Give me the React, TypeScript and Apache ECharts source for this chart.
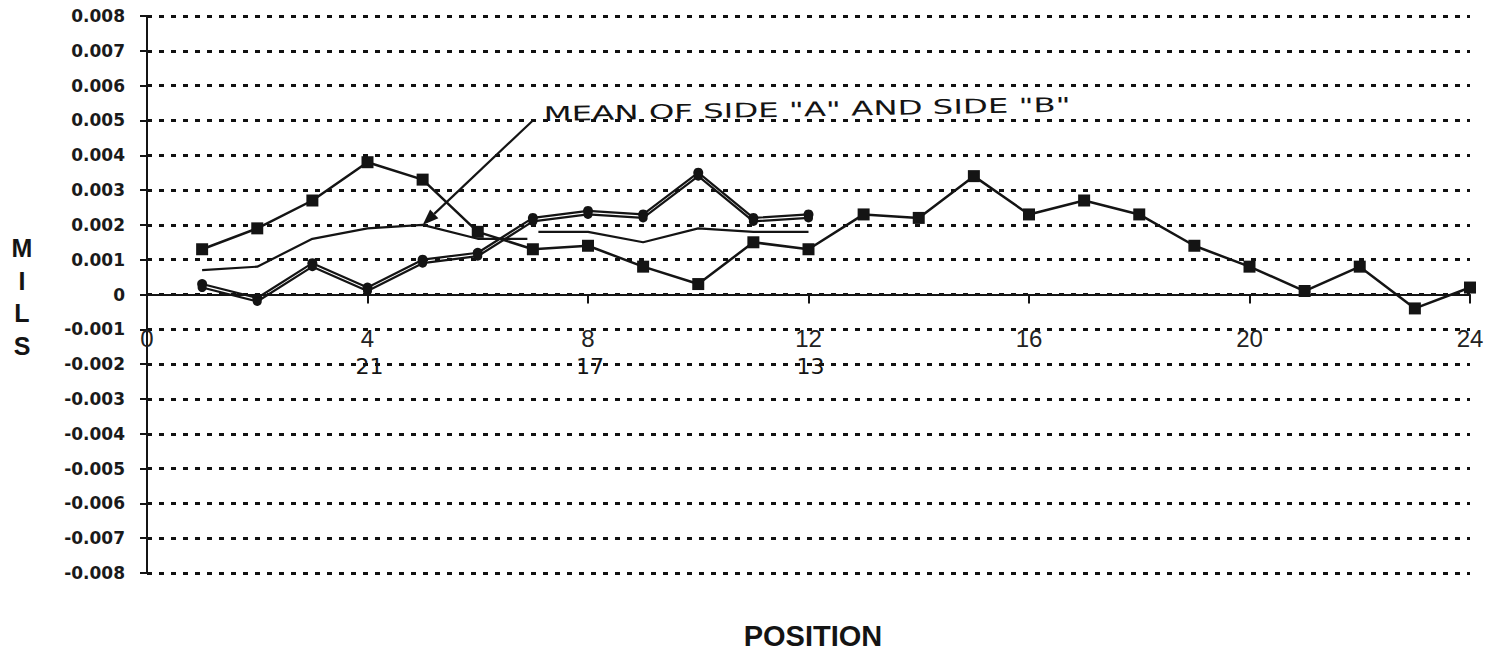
import React, { useEffect, useRef } from "react";
import * as echarts from "echarts";

// ---- data ----
const positions = [1, 2, 3, 4, 5, 6, 7, 8, 9, 10, 11, 12, 13, 14, 15, 16, 17, 18, 19, 20, 21, 22, 23, 24];
const squareValues = [
  0.0013, 0.0019, 0.0027, 0.0038, 0.0033, 0.0018, 0.0013, 0.0014, 0.0008, 0.0003, 0.0015, 0.0013,
  0.0023, 0.0022, 0.0034, 0.0023, 0.0027, 0.0023, 0.0014, 0.0008, 0.0001, 0.0008, -0.0004, 0.0002,
];
const circlePositions = [1, 2, 3, 4, 5, 6, 7, 8, 9, 10, 11, 12];
const sideAValues = [0.0003, -0.0001, 0.0009, 0.0002, 0.001, 0.0012, 0.0022, 0.0024, 0.0023, 0.0035, 0.0022, 0.0023];
const sideBValues = [0.0002, -0.0002, 0.0008, 0.0001, 0.0009, 0.0011, 0.0021, 0.0023, 0.0022, 0.0034, 0.0021, 0.0022];
const meanPositionsLeft = [1, 2, 3, 4, 5, 6, 6.9];
const meanValuesLeft = [0.0007, 0.0008, 0.0016, 0.0019, 0.002, 0.0016, 0.0016];
const meanPositionsRight = [7.1, 8, 9, 10, 11, 12];
const meanValuesRight = [0.0018, 0.0018, 0.0015, 0.0019, 0.0018, 0.0018];
const handNotePositions = [4, 8, 12];
const handNoteTexts = ["21", "17", "13"];
const annotationText = 'MEAN OF SIDE "A" AND SIDE "B"';
const yAxisLetters = ["M", "I", "L", "S"];
const xAxisTitle = "POSITION";

const INK = "#141414";
const GRID_TOP = 16;
const GRID_BOTTOM = 83;
const CHART_H = 656;

const pairs = (xs: number[], ys: number[]) => xs.map((x, i) => [x, ys[i]]);

export default function App() {
  const ref = useRef<HTMLDivElement | null>(null);

  useEffect(() => {
    if (!ref.current) return;
    const chart = echarts.init(ref.current, null, { renderer: "svg" });
    const gridH = CHART_H - GRID_TOP - GRID_BOTTOM;

    chart.setOption({
      animation: false,
      backgroundColor: "#ffffff",
      grid: { left: 147, right: 34, top: GRID_TOP, bottom: GRID_BOTTOM, containLabel: false },
      xAxis: {
        type: "value",
        min: 0,
        max: 24,
        interval: 4,
        position: "bottom",
        offset: -gridH / 2,
        axisLine: { onZero: false, lineStyle: { color: INK, width: 2 } },
        axisTick: { show: true, length: 9, lineStyle: { color: INK, width: 2 } },
        axisLabel: {
          color: "#222",
          fontFamily: "Liberation Sans",
          fontSize: 24,
          margin: 32,
          showMinLabel: true,
          showMaxLabel: true,
        },
        splitLine: { show: false },
        z: 5,
      },
      yAxis: {
        type: "value",
        min: -0.008,
        max: 0.008,
        interval: 0.001,
        axisLine: { show: true, onZero: false, lineStyle: { color: INK, width: 2 } },
        axisTick: { show: true, length: 7, lineStyle: { color: INK, width: 2 } },
        axisLabel: {
          color: "#1a1a1a",
          fontFamily: "DejaVu Sans",
          fontWeight: "bold",
          fontSize: 17,
          margin: 22,
          formatter: (v: number) => (Math.abs(v) < 1e-9 ? "0" : v.toFixed(3)),
        },
        splitLine: { show: true, lineStyle: { color: "#111", width: 3, type: [5, 7] } },
      },
      series: [
        {
          name: "Mean left",
          type: "line",
          data: pairs(meanPositionsLeft, meanValuesLeft),
          symbol: "none",
          lineStyle: { color: INK, width: 2.2 },
          z: 2,
        },
        {
          name: "Mean right",
          type: "line",
          data: pairs(meanPositionsRight, meanValuesRight),
          symbol: "none",
          lineStyle: { color: INK, width: 2.2 },
          z: 2,
        },
        {
          name: "Side A",
          type: "line",
          data: pairs(circlePositions, sideAValues),
          symbol: "circle",
          symbolSize: 10,
          itemStyle: { color: INK },
          lineStyle: { color: INK, width: 2.2 },
          z: 3,
        },
        {
          name: "Side B",
          type: "line",
          data: pairs(circlePositions, sideBValues),
          symbol: "circle",
          symbolSize: 9,
          itemStyle: { color: INK },
          lineStyle: { color: INK, width: 2.2 },
          z: 3,
        },
        {
          name: "Squares",
          type: "line",
          data: pairs(positions, squareValues),
          symbol: "rect",
          symbolSize: 12,
          itemStyle: { color: INK },
          lineStyle: { color: INK, width: 2.5 },
          z: 4,
        },
      ],
    });

    const px = (x: number, y: number) => chart.convertToPixel({ gridIndex: 0 }, [x, y]) as number[];

    const tip = px(5, 0.002);
    const start = px(7, 0.005);
    const dx = tip[0] - start[0];
    const dy = tip[1] - start[1];
    const len = Math.sqrt(dx * dx + dy * dy);
    const ux = dx / len;
    const uy = dy / len;
    const headLen = 16;
    const headW = 6;
    const baseX = tip[0] - ux * headLen;
    const baseY = tip[1] - uy * headLen;
    const textPos = px(7.2, 0.0049);

    const graphics: any[] = [];
    yAxisLetters.forEach((ch, i) => {
      graphics.push({
        type: "text",
        x: 22,
        y: 248 + i * 32.5,
        style: {
          text: ch,
          fill: INK,
          font: "bold 25px 'Liberation Sans'",
          align: "center",
          verticalAlign: "middle",
        },
      });
    });
    graphics.push({
      type: "text",
      x: 813,
      y: 636,
      style: {
        text: xAxisTitle,
        fill: INK,
        font: "bold 29px 'Liberation Sans'",
        align: "center",
        verticalAlign: "middle",
      },
    });
    handNotePositions.forEach((p, i) => {
      const q = px(p, -0.002);
      graphics.push({
        type: "text",
        x: q[0] + 2,
        y: q[1] + 2,
        style: {
          text: handNoteTexts[i],
          fill: INK,
          font: "22px 'DejaVu Sans'",
          align: "center",
          verticalAlign: "middle",
        },
      });
    });
    graphics.push({
      type: "line",
      shape: { x1: start[0], y1: start[1], x2: baseX, y2: baseY },
      style: { stroke: INK, lineWidth: 2.2 },
    });
    graphics.push({
      type: "polygon",
      shape: {
        points: [
          [tip[0], tip[1]],
          [baseX - uy * headW, baseY + ux * headW],
          [baseX + uy * headW, baseY - ux * headW],
        ],
      },
      style: { fill: INK },
    });
    graphics.push({
      type: "text",
      x: textPos[0],
      y: textPos[1],
      rotation: 0.018,
      scaleX: 1.62,
      style: {
        text: annotationText,
        fill: INK,
        font: "20px 'DejaVu Sans'",
        align: "left",
        verticalAlign: "bottom",
      },
    });

    chart.setOption({ graphic: graphics });

    return () => {
      chart.dispose();
    };
  }, []);

  return (
    <div
      ref={ref}
      style={{ position: "fixed", left: 0, top: 0, width: 1504, height: 656, background: "#fff" }}
    />
  );
}
